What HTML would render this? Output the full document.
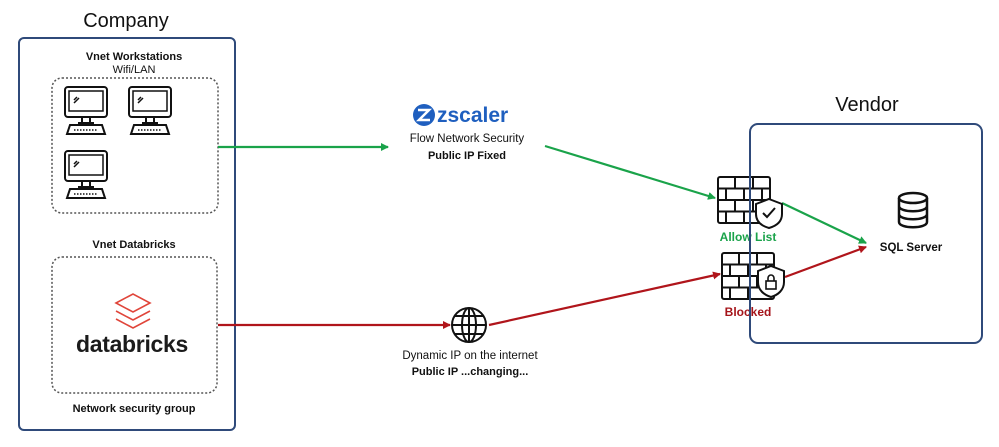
<!DOCTYPE html>
<html><head><meta charset="utf-8"><style>
html,body{margin:0;padding:0;background:#fff;}
svg{display:block;font-family:"Liberation Sans",sans-serif;}
</style></head><body>
<svg width="999" height="447" viewBox="0 0 999 447" xmlns="http://www.w3.org/2000/svg">
<defs>
<marker id="ag" markerWidth="8" markerHeight="8" refX="7" refY="4" orient="auto" markerUnits="userSpaceOnUse"><path d="M0,0 L8,4 L0,8 z" fill="#1aa34a"/></marker>
<marker id="ar" markerWidth="8" markerHeight="8" refX="7" refY="4" orient="auto" markerUnits="userSpaceOnUse"><path d="M0,0 L8,4 L0,8 z" fill="#b0151b"/></marker>
<g id="mon" fill="none" stroke="#111" stroke-width="2">
<rect x="1" y="1" width="42" height="30" rx="3"/><rect x="5" y="5" width="34" height="20" stroke-width="1.5"/>
<path d="M10,14 l3,-3 M10,17 l5,-5" stroke-width="1.5"/>
<path d="M18,31 v6 h8 v-6 M14,37 h16"/>
<path d="M6,39 h32 l3,9 h-38 z"/><path d="M10,44 h24" stroke-dasharray="1.5 1.5" stroke-width="1.5"/>
</g>
<g id="wall" fill="none" stroke="#111" stroke-width="2">
<rect x="1" y="1" width="52" height="46" rx="2"/>
<path d="M1,12.5 h52 M1,24 h52 M1,35.5 h52 M18,1 v11.5 M36,1 v11.5 M9,12.5 v11.5 M27,12.5 v11.5 M45,12.5 v11.5 M18,24 v11.5 M36,24 v11.5 M9,35.5 v11.5 M27,35.5 v11.5"/>
</g>
</defs>

<text x="126" y="27" font-size="20" text-anchor="middle" fill="#111">Company</text>
<rect x="19" y="38" width="216" height="392" rx="5" fill="none" stroke="#2f4a7a" stroke-width="2"/>
<text x="134" y="60" font-size="11" font-weight="bold" text-anchor="middle" fill="#111">Vnet Workstations</text>
<text x="134" y="73" font-size="11" text-anchor="middle" fill="#111">Wifi/LAN</text>
<rect x="52" y="78" width="166" height="135" rx="10" fill="none" stroke="#555" stroke-width="1.5" stroke-dasharray="2 2"/>
<use href="#mon" x="64" y="86"/><use href="#mon" x="128" y="86"/><use href="#mon" x="64" y="150"/>

<text x="134" y="248" font-size="11" font-weight="bold" text-anchor="middle" fill="#111">Vnet Databricks</text>
<rect x="52" y="257" width="165" height="136" rx="10" fill="none" stroke="#555" stroke-width="1.5" stroke-dasharray="2 2"/>
<g fill="none" stroke="#e0453a" stroke-width="1.6">
<path d="M116,303 l17,-9 l17,9 l-17,9 z"/><path d="M116,311 l17,9 l17,-9"/><path d="M116,319 l17,9 l17,-9"/>
</g>
<text x="132" y="352" font-size="23" font-weight="bold" text-anchor="middle" fill="#1b1b1b" letter-spacing="-0.3">databricks</text>
<text x="134" y="412" font-size="11" font-weight="bold" text-anchor="middle" fill="#111">Network security group</text>

<!-- zscaler -->
<circle cx="424" cy="115" r="11" fill="#1f5fbf"/>
<path d="M418,110 h11 l-10,10 h11" fill="none" stroke="#fff" stroke-width="2.5"/>
<text x="437" y="122" font-size="21" font-weight="bold" fill="#1f5fbf">zscaler</text>
<text x="467" y="142" font-size="11.5" text-anchor="middle" fill="#111">Flow Network Security</text>
<text x="467" y="159" font-size="11" font-weight="bold" text-anchor="middle" fill="#111">Public IP Fixed</text>

<line x1="218" y1="147" x2="388" y2="147" stroke="#1aa34a" stroke-width="2.2" marker-end="url(#ag)"/>
<line x1="545" y1="146" x2="715" y2="198" stroke="#1aa34a" stroke-width="2.2" marker-end="url(#ag)"/>
<line x1="782" y1="203" x2="866" y2="243" stroke="#1aa34a" stroke-width="2.2" marker-end="url(#ag)"/>

<line x1="218" y1="325" x2="450" y2="325" stroke="#b0151b" stroke-width="2.2" marker-end="url(#ar)"/>
<line x1="489" y1="325" x2="720" y2="274" stroke="#b0151b" stroke-width="2.2" marker-end="url(#ar)"/>
<line x1="785" y1="277" x2="866" y2="247" stroke="#b0151b" stroke-width="2.2" marker-end="url(#ar)"/>

<!-- globe -->
<g fill="none" stroke="#111" stroke-width="2">
<circle cx="469" cy="325" r="17"/><ellipse cx="469" cy="325" rx="7" ry="17"/>
<path d="M452,325 h34 M469,308 v34 M455,316 h28 M455,334 h28"/>
</g>
<text x="470" y="359" font-size="11.5" text-anchor="middle" fill="#111">Dynamic IP on the internet</text>
<text x="470" y="375" font-size="11" font-weight="bold" text-anchor="middle" fill="#111">Public IP ...changing...</text>

<!-- firewalls -->
<use href="#wall" x="717" y="176"/>
<path d="M769,199 l13,5 v10 c0,8 -6,12 -13,14 c-7,-2 -13,-6 -13,-14 v-10 z" fill="#fff" stroke="#111" stroke-width="2"/>
<path d="M763,213 l4,4 l8,-9" fill="none" stroke="#111" stroke-width="2"/>
<text x="748" y="241" font-size="12" font-weight="bold" text-anchor="middle" fill="#1aa34a">Allow List</text>

<use href="#wall" x="721" y="252"/>
<path d="M771,266 l13,5 v11 c0,8 -6,13 -13,15 c-7,-2 -13,-7 -13,-15 v-11 z" fill="#fff" stroke="#111" stroke-width="2"/>
<rect x="766" y="281" width="10" height="8" fill="none" stroke="#111" stroke-width="1.6"/>
<path d="M768,281 v-3 a3,3 0 0 1 6,0 v3" fill="none" stroke="#111" stroke-width="1.6"/>
<text x="748" y="316" font-size="12" font-weight="bold" text-anchor="middle" fill="#a5141a">Blocked</text>

<!-- vendor -->
<text x="867" y="111" font-size="20" text-anchor="middle" fill="#111">Vendor</text>
<rect x="750" y="124" width="232" height="219" rx="8" fill="none" stroke="#2f4a7a" stroke-width="2"/>
<g fill="none" stroke="#111" stroke-width="2.5">
<ellipse cx="913" cy="198" rx="14" ry="5"/>
<path d="M899,198 v24 c0,7 28,7 28,0 v-24 M899,206 c0,7 28,7 28,0 M899,214 c0,7 28,7 28,0"/>
</g>
<text x="911" y="251" font-size="11.5" font-weight="bold" text-anchor="middle" fill="#111">SQL Server</text>
</svg>
</body></html>
